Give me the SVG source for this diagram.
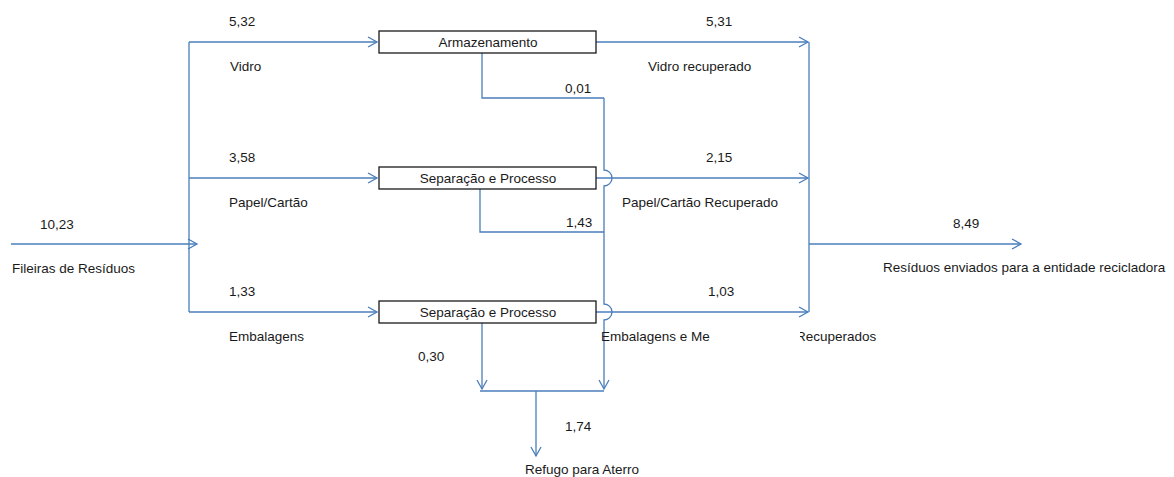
<svg xmlns="http://www.w3.org/2000/svg" width="1174" height="477" viewBox="0 0 1174 477">
  <style>
    text { font-family: "Liberation Sans", Arial, sans-serif; font-size: 13.5px; fill: #1a1a1a; }
    .box { fill: #ffffff; stroke: #1a1a1a; stroke-width: 1.3; }
    .lbl { text-anchor: middle; }
    .flow { fill: none; stroke: #4a7ebb; stroke-width: 1.3; }
  </style>
  <defs>
    <marker id="arr" viewBox="0 0 12 12" refX="10" refY="6" markerWidth="12" markerHeight="12" markerUnits="userSpaceOnUse" orient="auto">
      <polyline points="1,1 10,6 1,11" fill="none" stroke="#4a7ebb" stroke-width="1.3"/>
    </marker>
    <clipPath id="cut">
      <rect x="800" y="320" width="120" height="40"/>
    </clipPath>
  </defs>

  <rect width="1174" height="477" fill="#ffffff"/>

  <g id="connectors">
    <!-- input stream and split -->
    <line class="flow" x1="11" y1="244" x2="197" y2="244" marker-end="url(#arr)"/>
    <line class="flow" x1="189" y1="42" x2="189" y2="312"/>
    <line class="flow" x1="189" y1="42" x2="377" y2="42" marker-end="url(#arr)"/>
    <line class="flow" x1="189" y1="178" x2="377" y2="178" marker-end="url(#arr)"/>
    <line class="flow" x1="189" y1="312" x2="377" y2="312" marker-end="url(#arr)"/>
    <!-- recovered streams -->
    <line class="flow" x1="596" y1="42" x2="808" y2="42" marker-end="url(#arr)"/>
    <line class="flow" x1="596" y1="178" x2="808" y2="178" marker-end="url(#arr)"/>
    <line class="flow" x1="596" y1="312" x2="808" y2="312" marker-end="url(#arr)"/>
    <line class="flow" x1="809" y1="42" x2="809" y2="312"/>
    <line class="flow" x1="809" y1="244" x2="1021" y2="244" marker-end="url(#arr)"/>
    <!-- rejects -->
    <polyline class="flow" points="482,53 482,98 604,98"/>
    <polyline class="flow" points="480,189 480,232 604,232"/>
    <path class="flow" d="M604 98 V170 A8 8 0 0 1 604 186 V304 A8 8 0 0 1 604 320 V389" marker-end="url(#arr)"/>
    <line class="flow" x1="482" y1="323" x2="482" y2="389" marker-end="url(#arr)"/>
    <line class="flow" x1="480" y1="391" x2="604" y2="391"/>
    <line class="flow" x1="536" y1="391" x2="536" y2="456" marker-end="url(#arr)"/>
  </g>

  <g id="armazenamento">
    <rect class="box" x="379" y="31" width="217" height="22"/>
    <text class="lbl" x="488" y="47">Armazenamento</text>
  </g>
  <g id="separacao-papel">
    <rect class="box" x="379" y="167" width="217" height="22"/>
    <text class="lbl" x="488" y="183">Separação e Processo</text>
  </g>
  <g id="separacao-embalagens">
    <rect class="box" x="379" y="301" width="217" height="22"/>
    <text class="lbl" x="488" y="317">Separação e Processo</text>
  </g>

  <g id="labels">
    <text x="40" y="229">10,23</text>
    <text x="12" y="273">Fileiras de Resíduos</text>

    <text x="229" y="26">5,32</text>
    <text x="230" y="71">Vidro</text>
    <text x="229" y="162">3,58</text>
    <text x="229" y="207">Papel/Cartão</text>
    <text x="229" y="296">1,33</text>
    <text x="229" y="341">Embalagens</text>

    <text x="706" y="26">5,31</text>
    <text x="648" y="71">Vidro recuperado</text>
    <text x="706" y="162">2,15</text>
    <text x="622" y="207">Papel/Cartão Recuperado</text>
    <text x="708" y="296">1,03</text>
    <text x="601" y="341">Embalagens e Me</text>
    <text x="796" y="341" clip-path="url(#cut)">Recuperados</text>

    <text x="565" y="93">0,01</text>
    <text x="566" y="227">1,43</text>
    <text x="418" y="361">0,30</text>
    <text x="565" y="431">1,74</text>
    <text x="525" y="474">Refugo para Aterro</text>

    <text x="953" y="228">8,49</text>
    <text x="883" y="272">Resíduos enviados para a entidade recicladora</text>
  </g>
</svg>
